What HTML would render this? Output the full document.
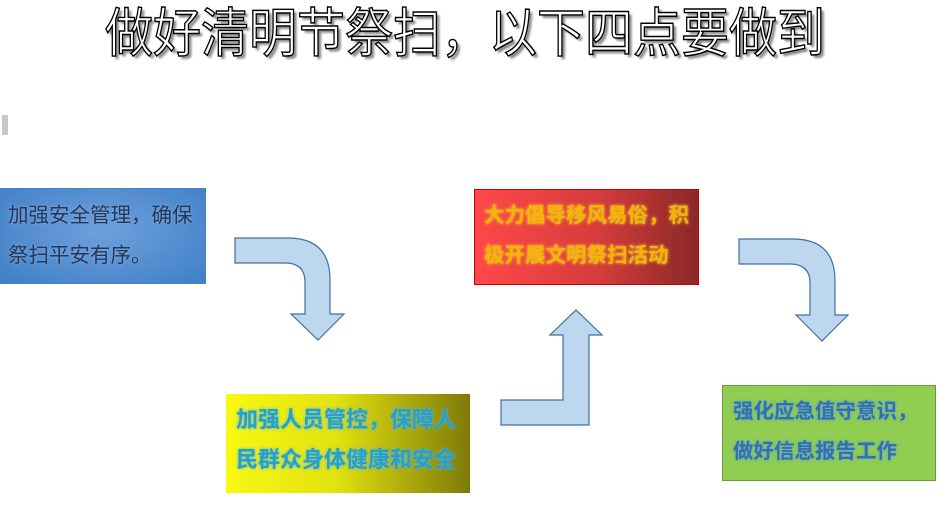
<!DOCTYPE html>
<html><head><meta charset="utf-8"><style>
body{margin:0;width:945px;height:527px;background:#fff;position:relative;overflow:hidden;font-family:"Liberation Sans","Noto Sans CJK SC",sans-serif}
.t{position:absolute;left:105px;top:4px;font-size:48px;line-height:56px;color:#fff;-webkit-text-stroke:1.3px #000;text-shadow:3px 3px 2px #888;white-space:nowrap;transform:scaleY(1.1);transform-origin:top left;letter-spacing:0}
.b{position:absolute;box-sizing:border-box;font-size:20.5px;line-height:40px;white-space:nowrap}
</style></head><body>
<div class="t">做好清明节祭扫，以下四点要做到</div>
<div style="position:absolute;left:2px;top:115px;width:6px;height:20px;background:#c8c8c8"></div>
<div class="b" style="left:0;top:188px;width:206px;height:96px;background:radial-gradient(ellipse at 50% 45%,#6ea0dc,#3f7fc6);border:1px solid #4a84c8;padding:7px 0 0 7px;color:#2a3550;text-shadow:0 0 3px #7ab0f0">加强安全管理，确保<br>祭扫平安有序。</div>
<div class="b" style="left:226px;top:394px;width:244px;height:99px;background:linear-gradient(90deg,#f8f812 0%,#e2e210 45%,#7e7a08 100%);padding:6px 0 0 10px;color:#29a0c8;font-weight:bold;font-size:22px;letter-spacing:0;text-shadow:0 0 3px #4ab8e8">加强人员管控，保障人<br>民群众身体健康和安全</div>
<div class="b" style="left:474px;top:189px;width:225px;height:96px;background:linear-gradient(90deg,#ff4848 0%,#d63c3c 55%,#8a2828 100%);border:1px solid #c00;padding:6px 0 0 9px;color:#f2b600;font-weight:bold;text-shadow:0 0 3px #ffd040">大力倡导移风易俗，积<br>极开展文明祭扫活动</div>
<div class="b" style="left:722px;top:385px;width:214px;height:96px;background:#90cd50;border:1px solid #6a9a40;padding:6px 0 0 10px;color:#3270b0;font-weight:bold;text-shadow:0 0 3px #5aa0e0">强化应急值守意识，<br>做好信息报告工作</div>
<svg width="945" height="527" style="position:absolute;left:0;top:0">
<g fill="#bdd7ee" stroke="#41719c" stroke-width="1.2">
<path d="M235,238 L288,238 Q330,238 330,280 L330,314 L344,314 L318,340 L291,314 L305,314 L305,282 Q305,263 285,263 L235,263 Z"/>
<path d="M739,239 L793,239 Q835,239 835,281 L835,315 L848,315 L822,341 L796,315 L810,315 L810,283 Q810,264 790,264 L739,264 Z"/>
<path d="M501,400 L563,400 L563,335 L550,335 L576,310 L602,335 L589,335 L589,425 L501,425 Z"/>
</g></svg>
</body></html>
